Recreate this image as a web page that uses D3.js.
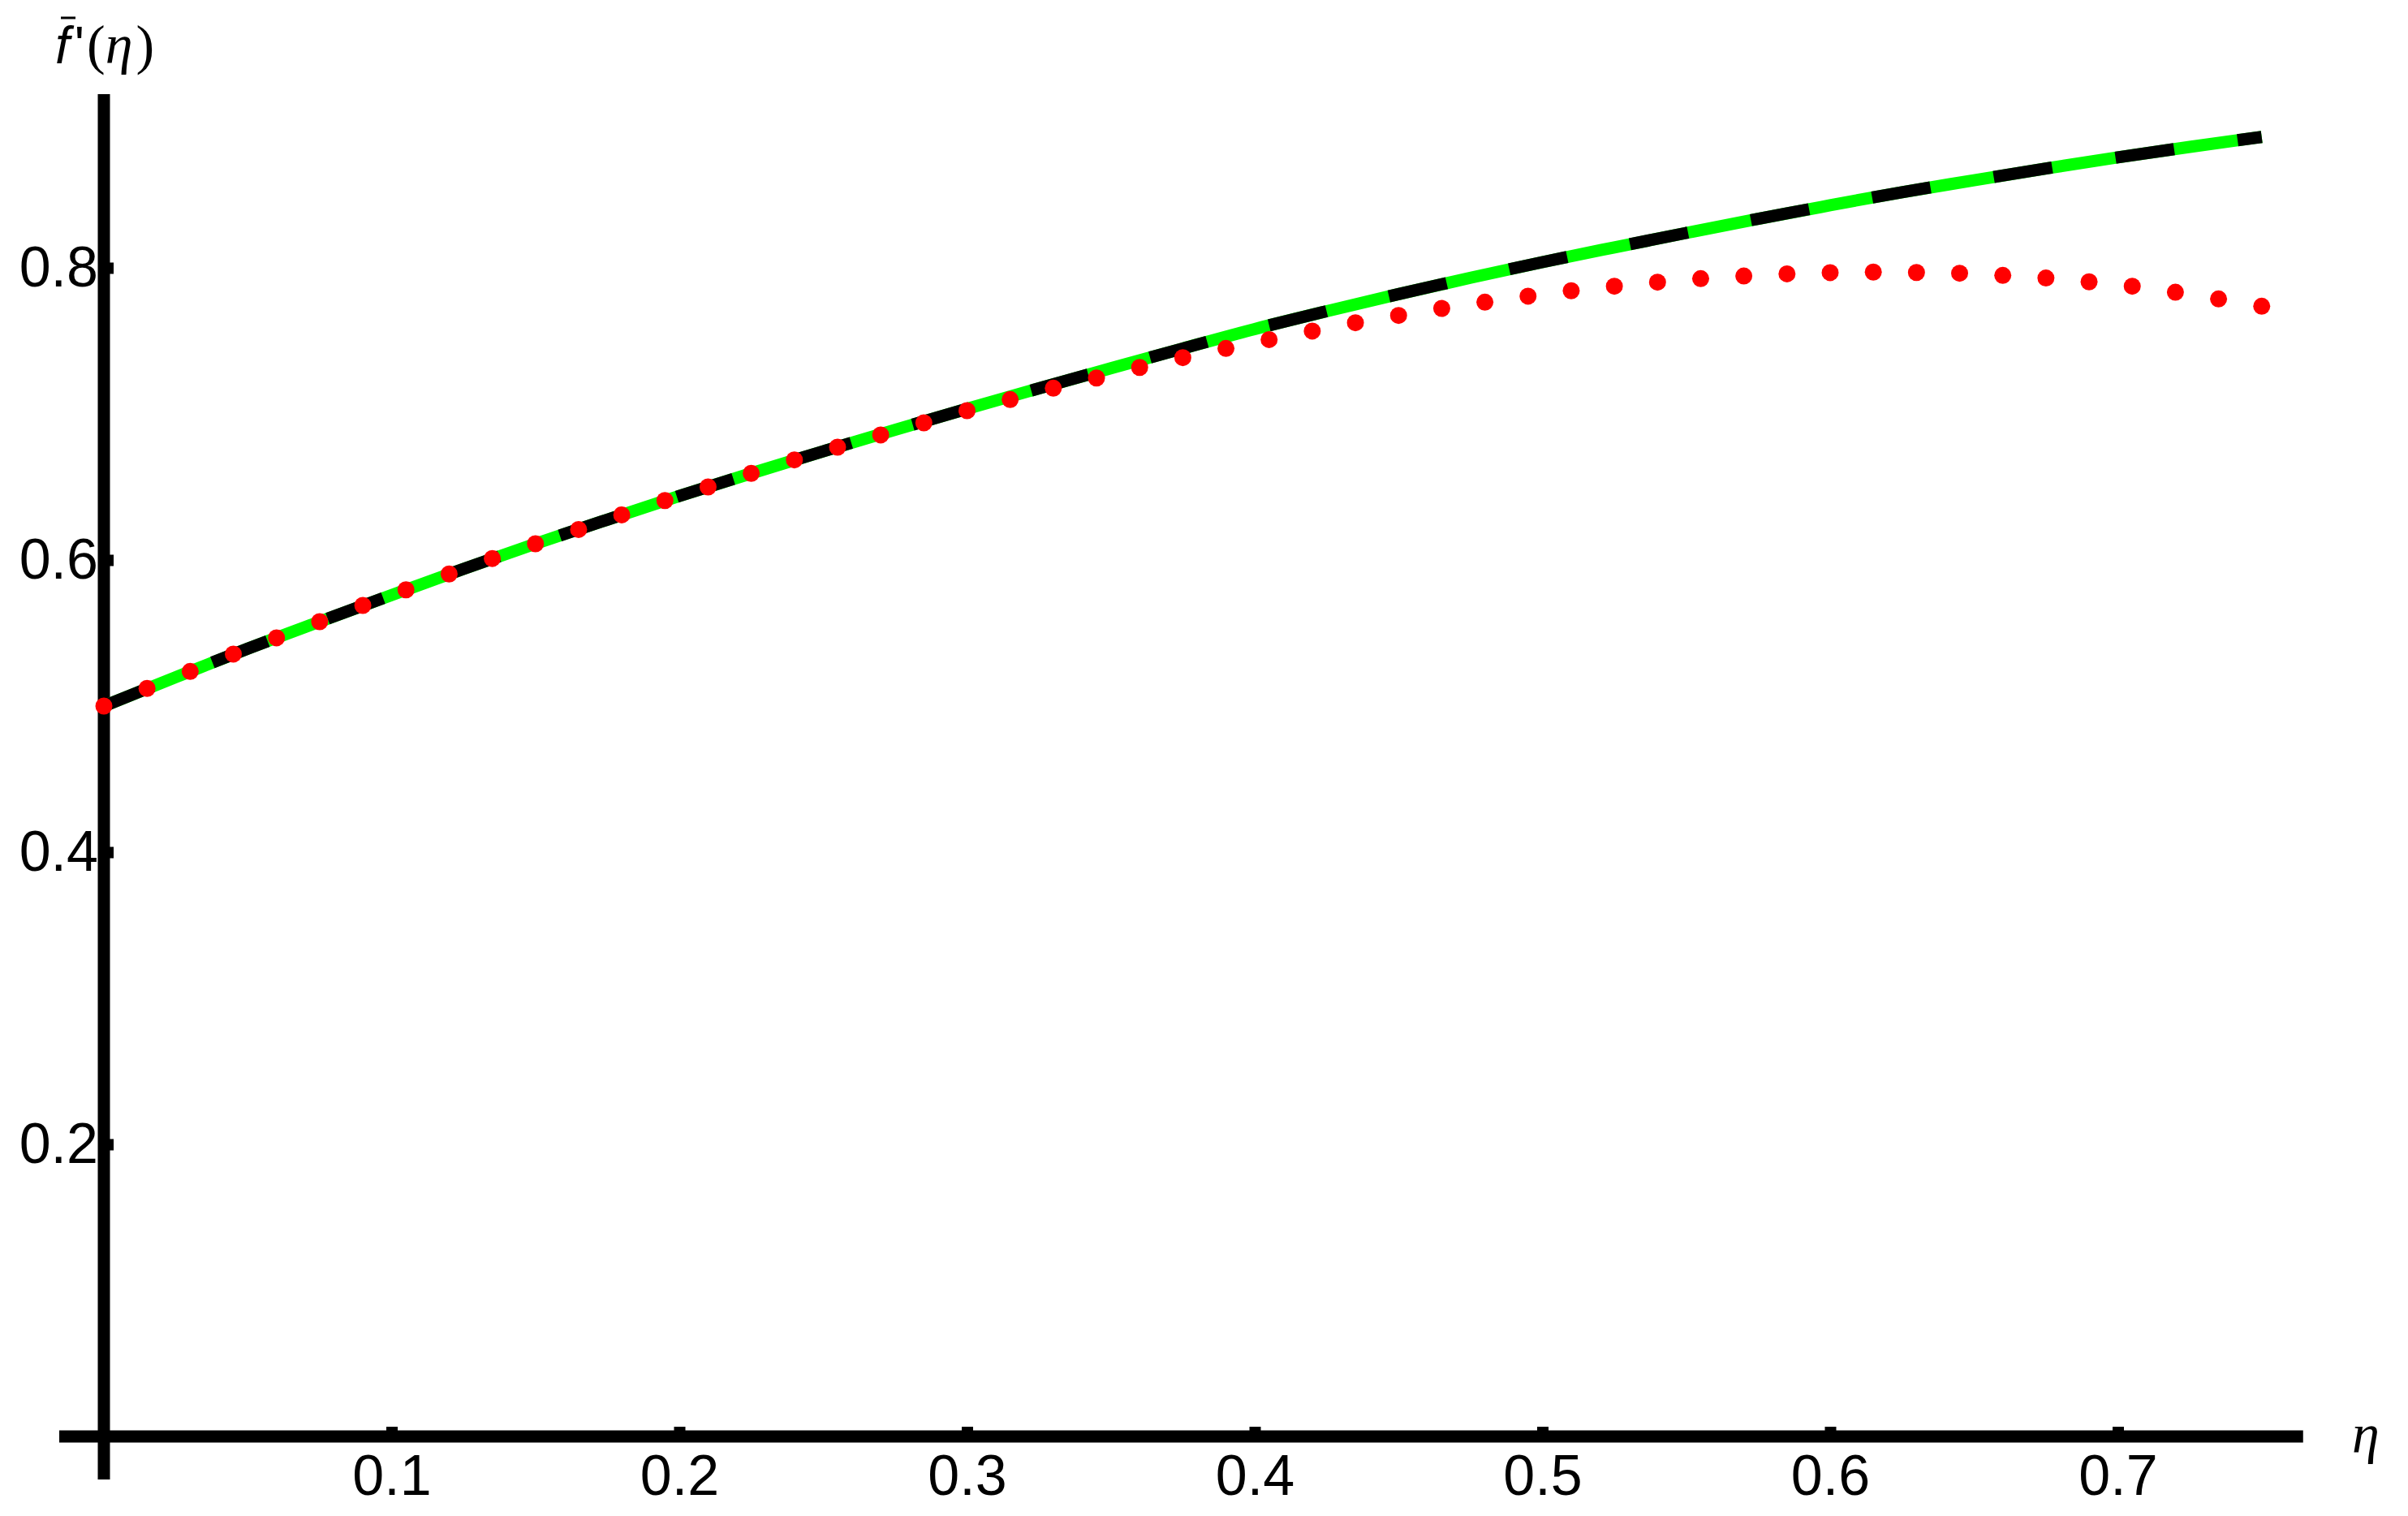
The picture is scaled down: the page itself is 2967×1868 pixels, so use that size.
<!DOCTYPE html>
<html>
<head>
<meta charset="utf-8">
<script src="https://cdn.jsdelivr.net/npm/d3@7"></script>
<style>
html, body { margin: 0; padding: 0; background: #ffffff; }
svg { display: block; }
</style>
</head>
<body>
<svg id="chart" width="2967" height="1868"></svg>
<script>
// ---------- data ----------
const etaLine = [0, 0.025, 0.05, 0.075, 0.1, 0.125, 0.15, 0.175, 0.2, 0.225, 0.25, 0.275,
  0.3, 0.325, 0.35, 0.375, 0.4, 0.425, 0.45, 0.475, 0.5, 0.525, 0.55, 0.575, 0.6, 0.625,
  0.65, 0.675, 0.7, 0.725, 0.75];

// solid green curve
const greenValues = [0.5000, 0.5198, 0.5393, 0.5578, 0.5760, 0.5939, 0.6111, 0.6276, 0.6438,
  0.6593, 0.6744, 0.6891, 0.7035, 0.7175, 0.7312, 0.7448, 0.7581, 0.7703, 0.7820, 0.7932,
  0.8039, 0.8140, 0.8239, 0.8336, 0.8428, 0.8518, 0.8599, 0.8680, 0.8756, 0.8828, 0.8896];

// black dashed curve (coincides with the green one)
const blackValues = [0.5000, 0.5198, 0.5393, 0.5578, 0.5760, 0.5939, 0.6111, 0.6276, 0.6438,
  0.6593, 0.6744, 0.6891, 0.7035, 0.7175, 0.7312, 0.7448, 0.7581, 0.7703, 0.7820, 0.7932,
  0.8039, 0.8140, 0.8239, 0.8336, 0.8428, 0.8518, 0.8599, 0.8680, 0.8756, 0.8828, 0.8896];

// red dotted series
const etaDots = [0, 0.015, 0.03, 0.045, 0.06, 0.075, 0.09, 0.105, 0.12, 0.135, 0.15, 0.165,
  0.18, 0.195, 0.21, 0.225, 0.24, 0.255, 0.27, 0.285, 0.3, 0.315, 0.33, 0.345, 0.36, 0.375,
  0.39, 0.405, 0.42, 0.435, 0.45, 0.465, 0.48, 0.495, 0.51, 0.525, 0.54, 0.555, 0.57, 0.585,
  0.6, 0.615, 0.63, 0.645, 0.66, 0.675, 0.69, 0.705, 0.72, 0.735, 0.75];
const redValues = [0.5000, 0.5121, 0.5237, 0.5356, 0.5467, 0.5578, 0.5689, 0.5796, 0.5904,
  0.6010, 0.6111, 0.6209, 0.6309, 0.6407, 0.6500, 0.6593, 0.6685, 0.6772, 0.6856, 0.6939,
  0.7022, 0.7098, 0.7176, 0.7246, 0.7318, 0.7385, 0.7448, 0.7509, 0.7567, 0.7624, 0.7674,
  0.7722, 0.7765, 0.7806, 0.7843, 0.7874, 0.7902, 0.7926, 0.7944, 0.7959, 0.7967, 0.7971,
  0.7968, 0.7963, 0.7948, 0.7930, 0.7904, 0.7874, 0.7833, 0.7787, 0.7737];

const xTicks = [0.1, 0.2, 0.3, 0.4, 0.5, 0.6, 0.7];
const yTicks = [0.2, 0.4, 0.6, 0.8];
const xAxisLabel = "η";

// ---------- chart ----------
const svg = d3.select("#chart");
const x = d3.scaleLinear().domain([0, 0.75]).range([128, 2786.75]);
const y = d3.scaleLinear().domain([0, 0.8]).range([1770, 330]);

const AXW = 15;
const tickFont = "'Liberation Sans', Arial, sans-serif";
const serif = "'Liberation Serif', 'Times New Roman', serif";

// x axis
const gx = svg.append("g").attr("transform", `translate(0,${y(0)})`)
  .call(d3.axisBottom(x).tickValues(xTicks).tickSize(-12).tickSizeOuter(0)
    .tickPadding(22).tickFormat(d3.format(".1f")));
gx.select(".domain").remove();
gx.selectAll(".tick line").attr("stroke", "#000").attr("stroke-width", 14);
gx.selectAll(".tick text").attr("font-family", tickFont).attr("font-size", 70).attr("fill", "#000");

// y axis
const gy = svg.append("g").attr("transform", `translate(${x(0)},0)`)
  .call(d3.axisLeft(y).tickValues(yTicks).tickSize(-12).tickSizeOuter(0)
    .tickPadding(7).tickFormat(d3.format(".1f")));
gy.select(".domain").remove();
gy.selectAll(".tick line").attr("stroke", "#000").attr("stroke-width", 14);
gy.selectAll(".tick text").attr("font-family", tickFont).attr("font-size", 70).attr("fill", "#000");

// axis lines (Mathematica-style, extending past the origin)
svg.append("line")
  .attr("x1", x(0) - 55).attr("x2", x(0.75) + 51)
  .attr("y1", y(0)).attr("y2", y(0))
  .attr("stroke", "#000").attr("stroke-width", AXW);
svg.append("line")
  .attr("x1", x(0)).attr("x2", x(0))
  .attr("y1", y(0) + 53).attr("y2", 116)
  .attr("stroke", "#000").attr("stroke-width", AXW);

// curves
const line = d3.line().curve(d3.curveMonotoneX);
const greenPts = etaLine.map((e, i) => [x(e), y(greenValues[i])]);
const blackPts = etaLine.map((e, i) => [x(e), y(blackValues[i])]);

svg.append("path").attr("d", line(greenPts))
  .attr("fill", "none").attr("stroke", "#00ff00").attr("stroke-width", 15)
  .attr("stroke-linecap", "butt").attr("stroke-linejoin", "round");
const blackPath = svg.append("path").attr("d", line(blackPts))
  .attr("fill", "none").attr("stroke", "#000000").attr("stroke-width", 15)
  .attr("stroke-linecap", "butt").attr("stroke-linejoin", "round");

// dash phase: align dash starts with the reference look (dash 73 : gap 79)
(function () {
  const node = blackPath.node();
  const total = node.getTotalLength();
  function lenAtX(px) {
    let lo = 0, hi = total;
    for (let i = 0; i < 40; i++) {
      const mid = (lo + hi) / 2;
      if (node.getPointAtLength(mid).x < px) lo = mid; else hi = mid;
    }
    return (lo + hi) / 2;
  }
  const sA = lenAtX(261.7), sB = lenAtX(2757);
  const period = (sB - sA) / 17;
  const dash = period * 73 / 152;
  const offset = ((-sA) % period + period) % period;
  blackPath.attr("stroke-dasharray", `${dash},${period - dash}`).attr("stroke-dashoffset", offset);
})();

svg.append("g").selectAll("circle").data(redValues).join("circle")
  .attr("cx", (d, i) => x(etaDots[i]))
  .attr("cy", d => y(d))
  .attr("r", 10.5)
  .attr("fill", "#ff0000");

// axis labels
svg.append("text").attr("x", 2898).attr("y", 1790)
  .attr("font-family", serif).attr("font-style", "italic").attr("font-size", 68)
  .attr("fill", "#000").text(xAxisLabel);

const yl = svg.append("text").attr("x", 68).attr("y", 78).attr("fill", "#000");
yl.append("tspan").attr("font-family", tickFont).attr("font-style", "italic")
  .attr("font-size", 64).text("f");
yl.append("tspan").attr("dx", 6).attr("font-family", tickFont).attr("font-size", 64).text("'");
yl.append("tspan").attr("dx", 3).attr("font-family", serif).attr("font-size", 68).text("(");
yl.append("tspan").attr("font-family", serif).attr("font-style", "italic")
  .attr("font-size", 68).text("η");
yl.append("tspan").attr("dx", 4).attr("font-family", serif).attr("font-size", 68).text(")");
svg.append("line").attr("x1", 75).attr("x2", 93).attr("y1", 22).attr("y2", 22)
  .attr("stroke", "#000").attr("stroke-width", 3);
</script>
</body>
</html>
